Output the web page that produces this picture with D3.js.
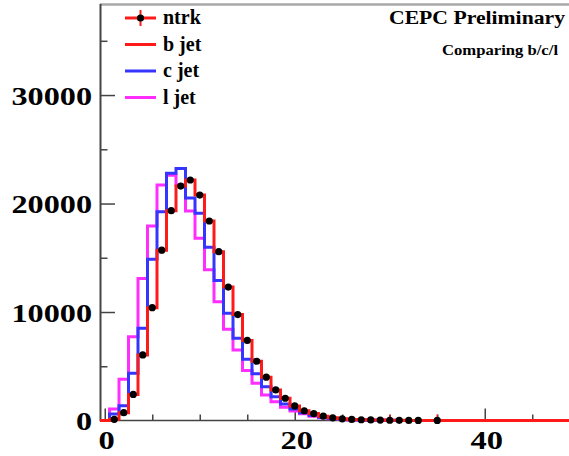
<!DOCTYPE html>
<html>
<head>
<meta charset="utf-8">
<script src="https://cdn.jsdelivr.net/npm/d3@7"></script>
<style>
  html, body { margin: 0; padding: 0; background: #fff; }
  svg { display: block; }
  text { font-family: "Liberation Serif", "Times New Roman", serif; font-weight: bold; }
</style>
</head>
<body>
<svg id="chart" width="569" height="456"></svg>
<script>
// ---- data (bin centres 0..49, unit width) ----
const binCenters = d3.range(0, 50);
const ntrk = [0,110,720,2400,6040,10400,15700,19340,21610,22170,20780,18390,15560,12300,9760,7380,5460,3990,2820,2050,1340,900,640,400,250,150,100,70,50,35,25,15,10,8,0,3,0,0,0,0,0,0,0,0,0,0,0,0,0,0];
const ntrkErr = [0,10,27,49,78,102,125,139,147,149,144,136,125,111,99,86,74,63,53,45,37,30,25,20,16,12,10,8,7,6,500,4,3,3,0,550,0,0,0,0,0,0,0,0,0,0,0,0,0,0];
const bJet = [0,110,720,2400,6040,10400,15700,19340,21610,22170,20780,18390,15560,12300,9760,7380,5460,3990,2820,2050,1340,900,640,400,250,150,100,70,50,35,25,15,10,8,0,3,0,0,0,0,0,0,0,0,0,0,0,0,0,0];
const cJet = [0,600,1360,4350,8500,14860,19240,22800,23240,20500,19100,15960,12900,9880,7580,5640,4300,3120,2190,1520,1060,720,480,300,180,110,70,45,30,20,12,8,5,3,0,0,0,0,0,0,0,0,0,0,0,0,0,0,0,0];
const lJet = [0,1060,3800,7720,13100,17930,21700,22600,21700,19300,16800,13900,10950,8400,6500,4600,3430,2350,1730,1220,880,620,400,250,150,90,55,35,20,12,8,5,3,0,0,0,0,0,0,0,0,0,0,0,0,0,0,0,0,0];
const xMajorTicks = [0, 20, 40];
const xMinorTicks = [5, 10, 15, 25, 30, 35, 45];
const yMajorTicks = [0, 10000, 20000, 30000];
const yMinorTicks = [5000, 15000, 25000, 35000];
const legendLabels = ["ntrk", "b jet", "c jet", "l jet"];
const colors = { ntrk: "#ff1a1a", b: "#ff1a1a", c: "#3535ff", l: "#ff2eff" };

// ---- layout ----
const svg = d3.select("#chart");
const pLeft = 100, pRight = 575, pTop = 5, pBottom = 420.5;
const x = d3.scaleLinear().domain([-0.5, 49.5]).range([pLeft, pRight]);
const y = d3.scaleLinear().domain([0, 38300]).range([pBottom, pTop]);

svg.append("defs").append("clipPath").attr("id", "plotclip")
  .append("rect").attr("x", pLeft).attr("y", pTop - 2).attr("width", pRight - pLeft).attr("height", pBottom - pTop + 6);

// top frame line
svg.append("line").attr("x1", pLeft).attr("x2", 569).attr("y1", 4.5).attr("y2", 4.5)
  .attr("stroke", "#a8a8a8").attr("stroke-width", 2.5);

// ---- axes ----
const xAxisMajor = d3.axisBottom(x).tickValues(xMajorTicks).tickSize(-12).tickFormat(d3.format("d"));
const xAxisMinor = d3.axisBottom(x).tickValues(xMinorTicks).tickSize(-6).tickFormat("");
const yAxisMajor = d3.axisLeft(y).tickValues(yMajorTicks).tickSize(-15).tickFormat(d3.format("d"));
const yAxisMinor = d3.axisLeft(y).tickValues(yMinorTicks).tickSize(-7.5).tickFormat("");

function styleAxis(g) {
  g.select(".domain").remove();
  g.selectAll(".tick line").attr("stroke", "#444").attr("stroke-width", 1.5);
}

svg.append("g").attr("transform", `translate(0,${pBottom})`).call(xAxisMinor).call(styleAxis);
const gx = svg.append("g").attr("transform", `translate(0,${pBottom})`).call(xAxisMajor).call(styleAxis);
gx.selectAll(".tick text")
  .attr("y", 29).attr("dy", 0).attr("x", 0)
  .attr("fill", "#000").style("font-size", "26px")
  .attr("transform", "translate(1.5,0) scale(1.25,1)");

svg.append("g").attr("transform", `translate(${pLeft},0)`).call(yAxisMinor).call(styleAxis);
const gy = svg.append("g").attr("transform", `translate(${pLeft},0)`).call(yAxisMajor).call(styleAxis);
gy.selectAll(".tick text")
  .attr("x", -8 / 1.24).attr("dy", "0.35em")
  .attr("fill", "#000").style("font-size", "26px")
  .attr("text-anchor", "end")
  .attr("transform", "scale(1.24,1)");

// axis lines
svg.append("line").attr("x1", pLeft).attr("x2", 569).attr("y1", pBottom).attr("y2", pBottom)
  .attr("stroke", "#444").attr("stroke-width", 1.6);
svg.append("line").attr("x1", pLeft + 0.5).attr("x2", pLeft + 0.5).attr("y1", 4).attr("y2", pBottom + 0.8)
  .attr("stroke", "#444").attr("stroke-width", 2);

// ---- histograms ----
const plot = svg.append("g").attr("clip-path", "url(#plotclip)");
function stepPoints(vals) {
  const pts = binCenters.map((c, i) => [c - 0.5, vals[i]]);
  pts.push([binCenters[binCenters.length - 1] + 0.5, vals[vals.length - 1]]);
  return pts;
}
const stepLine = d3.line().x(d => x(d[0])).y(d => y(d[1])).curve(d3.curveStepAfter);

[[lJet, colors.l], [cJet, colors.c], [bJet, colors.b]].forEach(([vals, col]) => {
  plot.append("path").datum(stepPoints(vals))
    .attr("d", stepLine).attr("fill", "none")
    .attr("stroke", col).attr("stroke-width", 3).attr("stroke-linejoin", "miter");
});

// ntrk points with error bars
const pts = binCenters.map((c, i) => ({ c, v: ntrk[i], e: ntrkErr[i] })).filter(d => d.v > 0);
plot.selectAll("line.err").data(pts).enter().append("line")
  .attr("x1", d => x(d.c)).attr("x2", d => x(d.c))
  .attr("y1", d => y(d.v + d.e)).attr("y2", d => y(Math.max(0, d.v - d.e)))
  .attr("stroke", colors.ntrk).attr("stroke-width", 1.5);
plot.selectAll("circle.pt").data(pts).enter().append("circle")
  .attr("cx", d => x(d.c)).attr("cy", d => y(d.v)).attr("r", 3.6).attr("fill", "#000");

// ---- legend ----
const legX1 = 125, legX2 = 156, legTextX = 163;
const legBase = [24, 50.5, 77, 103.5];
const legColors = [colors.ntrk, colors.b, colors.c, colors.l];
const leg = svg.append("g");
legendLabels.forEach((lab, i) => {
  const cy = legBase[i] - 6;
  leg.append("line").attr("x1", legX1).attr("x2", legX2).attr("y1", cy).attr("y2", cy)
    .attr("stroke", legColors[i]).attr("stroke-width", 3);
  if (i === 0) {
    leg.append("line").attr("x1", (legX1 + legX2) / 2).attr("x2", (legX1 + legX2) / 2)
      .attr("y1", cy - 8).attr("y2", cy + 8).attr("stroke", colors.ntrk).attr("stroke-width", 2);
    leg.append("circle").attr("cx", (legX1 + legX2) / 2).attr("cy", cy).attr("r", 3.6).attr("fill", "#000");
  }
  leg.append("text").attr("x", legTextX).attr("y", legBase[i]).attr("fill", "#000")
    .style("font-size", "20px").text(lab);
});

// ---- titles ----
svg.append("text").attr("x", 389).attr("y", 23.5).attr("fill", "#000")
  .style("font-size", "19px").attr("textLength", 176).attr("lengthAdjust", "spacingAndGlyphs")
  .text("CEPC Preliminary");
svg.append("text").attr("x", 442).attr("y", 55).attr("fill", "#000")
  .style("font-size", "15.5px").attr("textLength", 116).attr("lengthAdjust", "spacingAndGlyphs")
  .text("Comparing b/c/l");
</script>
</body>
</html>
